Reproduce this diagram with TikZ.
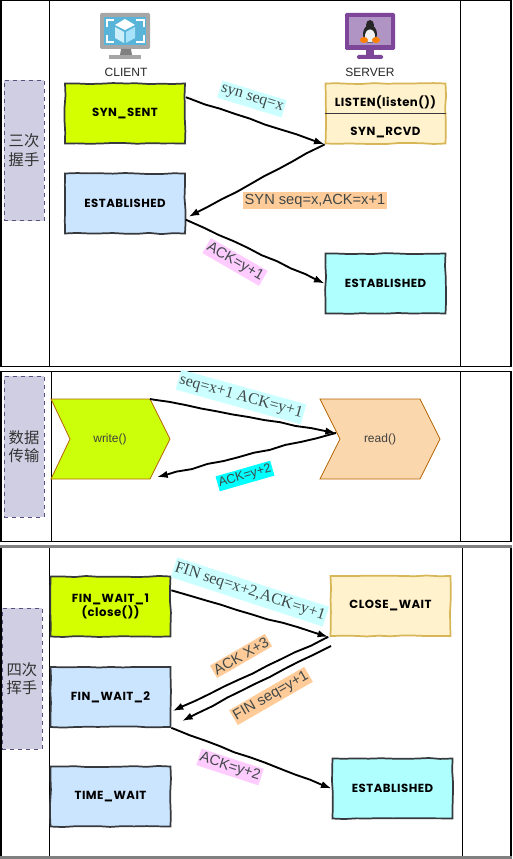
\documentclass[tikz,border=0pt]{standalone}
\usepackage{fontspec}
\setmainfont{Liberation Sans}
\newfontfamily\serifface{Liberation Serif}
\newfontfamily\cjkface{Noto Sans CJK SC}
\newfontfamily\stateface{Poppins}[LetterSpace=4]
\usetikzlibrary{decorations.pathmorphing,arrows.meta}
\definecolor{laneFill}{HTML}{D0CEE2}
\definecolor{laneEdge}{HTML}{56517E}
\definecolor{stateEdge}{HTML}{36393D}
\definecolor{stateGreen}{HTML}{D4FF00}
\definecolor{stateBlue}{HTML}{CCE5FF}
\definecolor{stateCyan}{HTML}{B0FFFF}
\definecolor{stateCream}{HTML}{FFF2CC}
\definecolor{creamEdge}{HTML}{D6B656}
\definecolor{chevGreen}{HTML}{CCFF0A}
\definecolor{chevPeach}{HTML}{FAD7AC}
\definecolor{chevEdge}{HTML}{B46504}
\definecolor{tagCyan}{HTML}{CCFFFF}
\definecolor{tagPeach}{HTML}{FFCC99}
\definecolor{tagPink}{HTML}{FFCCFF}
\definecolor{tagAqua}{HTML}{00FFFF}
\definecolor{tagText}{HTML}{404848}
\definecolor{clientScreen}{HTML}{59B4D9}
\definecolor{serverDark}{HTML}{7D4698}
\definecolor{serverLight}{HTML}{B094C4}
\tikzset{
  rough/.style={decorate, decoration={random steps, segment length=9pt, amplitude=0.45pt}},
  statefont/.style={font=\stateface\bfseries\fontsize{8.8}{10.5}\selectfont},
  statebox/.style={draw=stateEdge, line width=1.3pt, rough, minimum width=90pt, minimum height=45pt,
    inner sep=0pt, statefont, align=center, text=black},
  lanebox/.style={draw=laneEdge, fill=laneFill, dashed, line width=0.5pt, minimum width=30pt, minimum height=105.5pt,
    inner sep=0pt, font=\cjkface\fontsize{11.5}{14}\selectfont, align=center, text=black!80},
  chev/.style={draw=chevEdge, line width=0.6pt},
  msg/.style={-{Latex[length=8pt,width=5.5pt]}, line width=1.4pt, decorate,
    decoration={random steps, segment length=12pt, amplitude=0.5pt, pre length=3pt, post length=8pt}},
  tag/.style={inner xsep=1pt, inner ysep=1.5pt, text=tagText, font=\fontsize{11}{12}\selectfont},
  sertag/.style={tag, inner ysep=2.5pt, font=\serifface\fontsize{12}{12}\selectfont},
  frameline/.style={line width=1.1pt},
  grayline/.style={line width=1.6pt, color=gray}
}
\pgfmathsetseed{7}
\begin{document}
\begin{tikzpicture}[x=0.75pt,y=-0.75pt]
\useasboundingbox (0,0) rectangle (512,859);
% section frames
\draw[frameline] (1,0.5) rectangle (511,366.5);
\draw[frameline] (49.5,0.5) -- (49.5,366.5);
\draw[frameline] (460.5,0.5) -- (460.5,366.5);
\draw[frameline] (1,371.5) rectangle (511,541.5);
\draw[frameline] (51.5,371.5) -- (51.5,541.5);
\draw[frameline] (460.5,371.5) -- (460.5,541.5);
\draw[frameline] (1,546.5) rectangle (511,857.5);
\draw[frameline] (49.5,546.5) -- (49.5,857.5);
\draw[frameline] (462.5,546.5) -- (462.5,857.5);
\draw[grayline] (0,546.5) -- (512,546.5);
\draw[grayline] (0,857.5) -- (512,857.5);

\node[lanebox] (lane1) at (24,150.5) {三次\\握手};
\node[lanebox] (lane2) at (24,446.5) {数据\\传输};
\node[lanebox] (lane3) at (22,678.5) {四次\\挥手};

% client icon
\fill[rounded corners=1pt, color=black!35] (100,13) rectangle (150,49);
\fill[color=black!50] (121,49) -- (131,49) -- (132,55) -- (120,55) -- cycle;
\fill[color=black!35] (109,55) rectangle (141,59);
\fill[color=clientScreen] (104,17) rectangle (146,45);
\draw[white, line width=1.1pt] (107,27) -- (107,20) -- (114,20) (136,20) -- (144,20) -- (144,27)
  (144,35) -- (144,42) -- (136,42) (114,42) -- (107,42) -- (107,35);
\fill[white] (125,19) -- (135,25) -- (125,30) -- (115,25) -- cycle;
\fill[color=cyan!20!white] (115,27) -- (124,32) -- (124,43) -- (115,38) -- cycle;
\fill[color=cyan!35!white] (126,32) -- (135,27) -- (135,38) -- (126,43) -- cycle;
% server icon
\fill[rounded corners=1pt, color=serverDark] (345,13) rectangle (395,50);
\fill[color=serverDark] (366,50) rectangle (374,55);
\fill[rounded corners=1pt, color=serverDark] (357,55) rectangle (383,59);
\fill[color=serverLight] (349,17) rectangle (391,45);
\fill[black!85] (370,34) ellipse [x radius=7, y radius=9];
\fill[black!85] (370,25) ellipse [x radius=4, y radius=5];
\fill[black!5] (370,36) ellipse [x radius=5, y radius=6.5];
\fill[orange] (364,40) ellipse [x radius=4, y radius=3];
\fill[orange] (376,40) ellipse [x radius=4, y radius=3];

\node[font=\fontsize{9}{10}\selectfont, text=black!85] (client) at (126,72.5) {CLIENT};
\node[font=\fontsize{9}{10}\selectfont, text=black!85] (server) at (370,72.5) {SERVER};

% three way handshake
\node[statebox, fill=stateGreen] (synsent) at (125,113.5) {SYN\_SENT};
\node[statebox, fill=stateBlue] (estclient) at (125,203.5) {ESTABLISHED};
\node[statebox, draw=creamEdge, fill=stateCream] (listen) at (385.5,113.5) {};
\node[statefont] (listentext) at (385.5,102.5) {LISTEN(listen())};
\node[statefont] (rcvdtext) at (385.5,133) {SYN\_RCVD};
\draw[line width=1.3pt, color=stateEdge] (listen.west) -- (listen.east);
\node[statebox, fill=stateCyan] (estserver) at (385.5,283.5) {ESTABLISHED};

\draw[msg] ([yshift=-11pt]synsent.north east) -- (listen.south west);
\draw[msg] (listen.south west) -- ([xshift=2pt,yshift=-10pt]estclient.east);
\draw[msg] ([yshift=11pt]estclient.south east) -- (estserver.west);

\node[sertag, fill=tagCyan, rotate=-17] (tagsyn) at (252,99) {syn seq=x};
\node[tag, fill=tagPeach] (tagsynack) at (315,200.5) {SYN seq=x,ACK=x+1};
\node[tag, fill=tagPink, rotate=-30] (tagack) at (235,262) {ACK=y+1};

% data transfer
\draw[chev, fill=chevGreen] (51,399) -- (150,399) -- (170,439) -- (150,479) -- (51,479) -- (70,439) -- cycle;
\draw[chev, fill=chevPeach] (320,399) -- (420,399) -- (440,439) -- (420,479) -- (320,479) -- (340,439) -- cycle;
\node[font=\fontsize{9}{10}\selectfont, text=black!75] (write) at (110,439.5) {write()};
\node[font=\fontsize{9}{10}\selectfont, text=black!75] (read) at (380,439.5) {read()};
\coordinate (writeout) at (150,399);
\coordinate (writein) at (157,477);
\coordinate (readin) at (336,433);

\draw[msg] (writeout) -- (readin);
\draw[msg] (readin) -- (writein);

\node[sertag, fill=tagCyan, rotate=-15.5] (tagdata) at (241,397) {seq=x+1 ACK=y+1};
\node[tag, fill=tagAqua, rotate=16, font=\fontsize{9.5}{10}\selectfont] (tagackdata) at (245,476) {ACK=y+2};

% four way handshake
\node[statebox, fill=stateGreen] (finone) at (110.5,606.5) {FIN\_WAIT\_1\\(close())};
\node[statebox, fill=stateBlue] (fintwo) at (110.5,697) {FIN\_WAIT\_2};
\node[statebox, fill=stateBlue] (timewait) at (110.5,796.5) {TIME\_WAIT};
\node[statebox, draw=creamEdge, fill=stateCream] (closewait) at (390.5,606) {CLOSE\_WAIT};
\node[statebox, fill=stateCyan] (estfinal) at (392.5,788.5) {ESTABLISHED};
\coordinate (closeout) at (331,646);
\coordinate (fintwoin) at (182,721);

\draw[msg] ([yshift=-11pt]finone.north east) -- ([xshift=-1pt]closewait.south west);
\draw[msg] ([xshift=-1pt]closewait.south west) -- ([xshift=1pt,yshift=-10.5pt]fintwo.east);
\draw[msg] (closeout) -- (fintwoin);
\draw[msg] (fintwo.south east) -- (estfinal.west);

\node[sertag, fill=tagCyan, rotate=-18] (tagfin) at (250,592) {FIN seq=x+2,ACK=y+1};
\node[tag, fill=tagPeach, rotate=30] (tagackx) at (241,656) {ACK X+3};
\node[tag, fill=tagPeach, rotate=30] (tagfiny) at (271,696) {FIN seq=y+1};
\node[tag, fill=tagPink, rotate=-18] (tagacky) at (230,767) {ACK=y+2};
\end{tikzpicture}
\end{document}
